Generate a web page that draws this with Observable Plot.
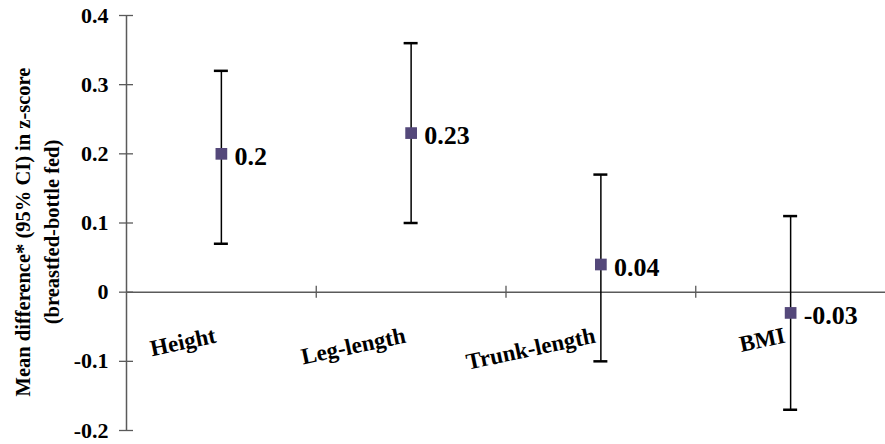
<!DOCTYPE html>
<html>
<head>
<meta charset="utf-8">
<script src="https://cdn.jsdelivr.net/npm/d3@7"></script>
<script src="https://cdn.jsdelivr.net/npm/@observablehq/plot@0.6"></script>
<style>
  body { margin: 0; background: #fff; }
  #chart svg { display: block; }
  #chart svg, #chart svg text { font-family: "Liberation Serif", "Times New Roman", serif !important; font-weight: bold; }
</style>
</head>
<body>
<div id="chart"></div>
<script>
// Mean difference in z-score (breastfed minus bottle fed), with 95% CI
const categories = ["Height", "Leg-length", "Trunk-length", "BMI"];
const means = [0.2, 0.23, 0.04, -0.03];
const lower = [0.07, 0.10, -0.10, -0.17];
const upper = [0.32, 0.36, 0.17, 0.11];
const valueLabels = ["0.2", "0.23", "0.04", "-0.03"];
const yTicks = [-0.2, -0.1, 0, 0.1, 0.2, 0.3, 0.4];
const yTickLabels = ["-0.2", "-0.1", "0", "0.1", "0.2", "0.3", "0.4"];
const yTitle = ["Mean difference* (95% CI) in z-score", "(breastfed-bottle fed)"];

// each category sits in the middle of its own unit slot on the x axis
const rows = categories.map((c, i) => ({
  c, pos: i + 0.5, mean: means[i], lo: lower[i], hi: upper[i], label: valueLabels[i]
}));
const dividers = d3.range(1, categories.length);

const axisColor = "#5a5a5a";
const font = "Liberation Serif";

const chart = Plot.plot({
  width: 885,
  height: 444,
  marginLeft: 126,
  marginRight: 0,
  marginTop: 15,
  marginBottom: 14,
  style: { fontFamily: font, fontWeight: "bold", color: "#000", background: "#fff" },
  x: { domain: [0, categories.length], axis: null },
  y: { domain: [-0.2, 0.4] },
  marks: [
    // y axis labels
    Plot.axisY(yTicks, {
      tickSize: 0, tickPadding: 18, label: null, fontSize: 22, fontWeight: "bold", fontFamily: font,
      tickFormat: d => yTickLabels[yTicks.indexOf(d)]
    }),
    // y axis line and crossing ticks
    Plot.ruleX([0], { y1: -0.2, y2: 0.4, stroke: axisColor, strokeWidth: 1.5 }),
    Plot.ruleY(yTicks, { y: d => d, x1: 0, x2: 0, insetLeft: -7, insetRight: -7, stroke: axisColor, strokeWidth: 1.3 }),
    // x axis at zero with category dividers
    Plot.ruleY([0], { x1: 0, x2: categories.length, stroke: axisColor, strokeWidth: 1.5 }),
    Plot.ruleX(dividers, { x: d => d, y1: 0, y2: 0, insetTop: -6, insetBottom: -6, stroke: axisColor, strokeWidth: 1.3 }),
    // category labels, slanted
    Plot.text(rows, {
      x: "pos", y: () => 0, text: "c", textAnchor: "end", rotate: -12,
      dx: -6, dy: 43, fontSize: 23, fontWeight: "bold", fontFamily: font, fill: "#000"
    }),
    // confidence intervals
    Plot.ruleX(rows, { x: "pos", y1: "lo", y2: "hi", stroke: "#000", strokeWidth: 1.5 }),
    Plot.ruleY(rows, { y: "lo", x1: "pos", x2: "pos", insetLeft: -7, insetRight: -7, stroke: "#000", strokeWidth: 2.5 }),
    Plot.ruleY(rows, { y: "hi", x1: "pos", x2: "pos", insetLeft: -7, insetRight: -7, stroke: "#000", strokeWidth: 2.5 }),
    // point estimates
    Plot.dot(rows, { x: "pos", y: "mean", symbol: "square", r: 6.6, fill: "#54487a", stroke: "none" }),
    Plot.text(rows, {
      x: "pos", y: "mean", text: "label", textAnchor: "start",
      dx: 13, dy: 3, fontSize: 26, fontWeight: "bold", fontFamily: font, fill: "#000"
    }),
    // y axis title
    Plot.text([yTitle.join("\n")], {
      text: d => d, frameAnchor: "left", rotate: -90, dx: -91, dy: 9,
      fontSize: 20.5, fontWeight: "bold", fontFamily: font, lineHeight: 1.4,
      textAnchor: "middle", lineAnchor: "middle", fill: "#000"
    })
  ]
});

document.getElementById("chart").appendChild(chart);
</script>
</body>
</html>
